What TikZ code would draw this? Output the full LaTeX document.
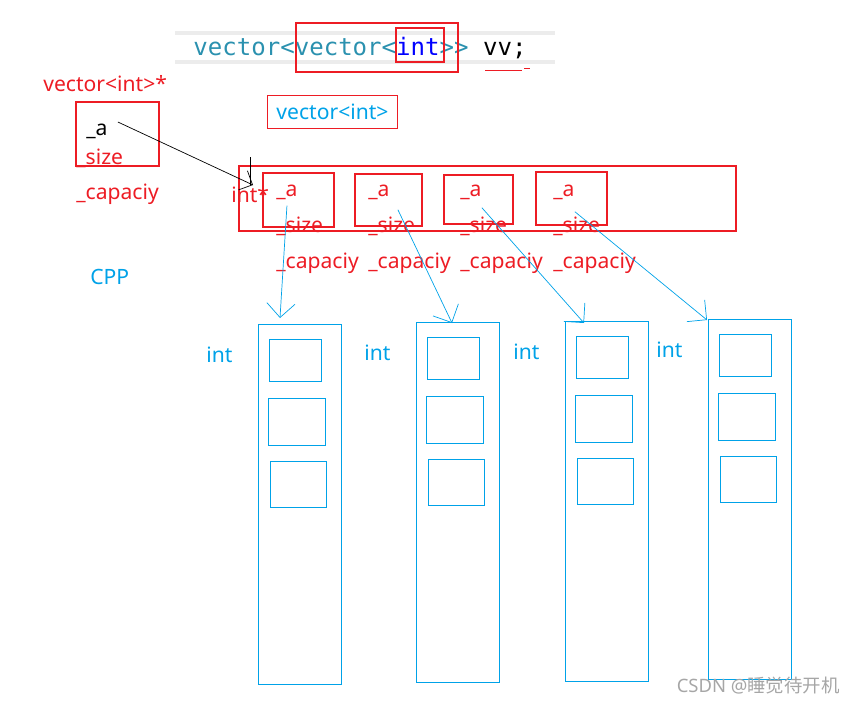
\documentclass[tikz,border=0pt]{standalone}
\usepackage{fontspec}
\setmainfont{Noto Sans}
\newfontfamily\codefont{DejaVu Sans Mono}
\newfontfamily\cjk{Noto Sans CJK SC}
\usetikzlibrary{arrows.meta,positioning,calc}
\definecolor{memred}{RGB}{237,28,36}
\definecolor{memblue}{RGB}{0,162,232}
\definecolor{codeteal}{RGB}{43,145,175}
\tikzset{
    every node/.style={font=\fontsize{12}{14}\selectfont,inner sep=0pt},
    redbox/.style={draw=memred,thick},
    bluebox/.style={draw=memblue},
    redtxt/.style={text=memred,anchor=west},
    bluetxt/.style={text=memblue,anchor=west}
}
\begin{document}
\begin{tikzpicture}[x=0.02cm,y=-0.02cm]
    \useasboundingbox (0,0) rectangle (856,704);

    % the declaration
    \draw[gray!15,line width=2pt] (175,33) -- (555,33) (175,62) -- (555,62);
    \node[anchor=west,font=\codefont\fontsize{13.7}{15}\selectfont] (decl) at (193,48)
        {\textcolor{codeteal}{vector<vector<}\textcolor{blue}{int}\textcolor{codeteal}{>>} vv;};
    \draw[redbox] (296,23) rectangle (458,72);
    \draw[redbox] (396,28) rectangle (444,62);
    \draw[memred] (485,70) -- (522,70) (524,68) -- (530,68);

    % outer object
    \node[redtxt] (outer) at (43,84) {vector<int>*};
    \draw[redbox] (76,102) rectangle (159,166);
    \node[anchor=west] (a0) at (86,131) {\_a};
    \node[redtxt] (s0) at (76,158) {\_size};
    \node[redtxt] (c0) at (76,194) {\_capaciy};
    \node[bluetxt,draw=memred,thick,inner sep=5pt] (vi) at (267,112) {vector<int>};
    \node[bluetxt] (cpp) at (90,277) {CPP};

    % array of vector<int>
    \draw[redbox] (239,166) rectangle (736,231);
    \node[redtxt] (ip) at (231,195) {int*};
    \coordinate (ipt) at (253,185);
    \draw[black] (250,157) -- (250,185);
    \draw[black,-{Straight Barb[length=6pt]}] (a0.east) ++(10,-9) -- (ipt);

    \foreach \i/\x/\l/\r/\t/\b in {1/276/263/334/173/227, 2/368/355/422/174/226,
                                   3/460/444/513/175/224, 4/553/536/607/172/225} {
        \draw[redbox] (\l,\t) rectangle (\r,\b);
        \node[redtxt] (a\i) at (\x,192) {\_a};
        \node[redtxt] (s\i) at (\x,226) {\_size};
        \node[redtxt] (c\i) at (\x,263) {\_capaciy};
    }

    % int blocks
    \foreach \i/\l/\t/\lx/\ly in {1/258/324/206/355, 2/416/322/364/353,
                                  3/565/321/513/352, 4/708/319/656/350} {
        \draw[bluebox] (\l,\t) rectangle ++(83,360);
        \draw[bluebox] ($(\l,\t)+(11,15)$) rectangle ++(52,42);
        \draw[bluebox] ($(\l,\t)+(10,74)$) rectangle ++(57,47);
        \draw[bluebox] ($(\l,\t)+(12,137)$) rectangle ++(56,46);
        \node[bluetxt] (int\i) at (\lx,\ly) {int};
    }
    \coordinate (top1) at (280,318);
    \coordinate (top2) at (452,323);
    \coordinate (top3) at (584,323);
    \coordinate (top4) at (707,320);

    \draw[memblue,-{Straight Barb[length=8pt]}] (a1.south) ++(0,6) -- (top1);
    \draw[memblue,-{Straight Barb[length=8pt]}] (a2.south east) ++(8,10) -- (top2);
    \draw[memblue,-{Straight Barb[length=8pt]}] (a3.south east) ++(0,8) -- (top3);
    \draw[memblue,-{Straight Barb[length=8pt]}] (a4.south east) ++(0,12) -- (top4);

    \node[anchor=east,text=gray!70,font=\fontsize{10.5}{12}\selectfont] (wm) at (840,686)
        {CSDN @{\cjk 睡觉待开机}};
\end{tikzpicture}
\end{document}
